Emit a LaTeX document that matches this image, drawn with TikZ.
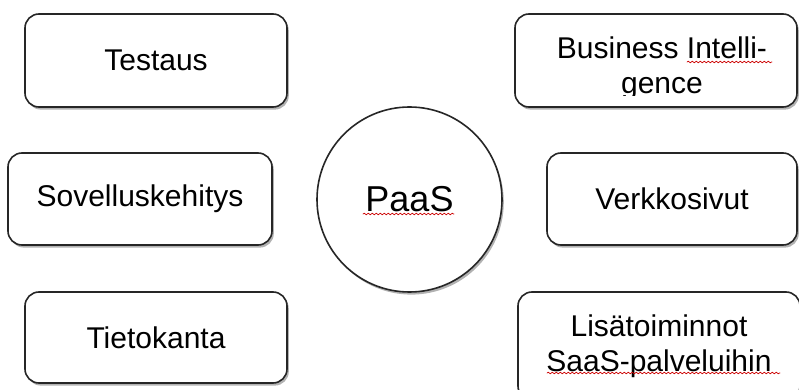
\documentclass[tikz,border=0pt]{standalone}
\usepackage{fontspec}
\setmainfont{Liberation Sans}
\usetikzlibrary{shadows,decorations.pathmorphing}

\tikzset{
  area/.style={draw=black!85, line width=0.8pt, fill=white, rounded corners=7pt,
    align=center, inner sep=0pt, font=\fontsize{15}{17.5}\selectfont,
    drop shadow={shadow xshift=0.9pt, shadow yshift=-1.3pt, opacity=0.3, fill=black}},
  core/.style={circle, draw=black!85, line width=0.8pt, fill=white, inner sep=0pt,
    minimum size=92.5pt, font=\fontsize{18}{20}\selectfont,
    drop shadow={shadow xshift=0.9pt, shadow yshift=-1.3pt, opacity=0.3, fill=black}},
  squiggle/.style={red!80!black, line width=0.35pt, decorate,
    decoration={snake, amplitude=0.4pt, segment length=2pt}}
}

\begin{document}
\begin{tikzpicture}[x=0.5pt, y=-0.5pt, line join=round, line cap=round]
  \clip (0,0) rectangle (799,390);
  % left column
  \node[area, minimum width=131pt, minimum height=46.5pt] (testaus) at (156,60.5) {Testaus};
  \node[area, minimum width=132pt, minimum height=46pt] (kehitys) at (140,199) {Sovelluskehitys};
  \node[area, minimum width=131pt, minimum height=45.5pt] (kanta) at (156,337.5) {Tietokanta};
  % centre
  \node[core] (paas) at (409.5,199.5) {PaaS};
  % right column
  \node[area, minimum width=141pt, minimum height=46.5pt] (bi) at (656,60.5) {};
  \begin{scope}
    \clip (515,14) rectangle (797,96);
    \node[align=center, font=\fontsize{15}{17.5}\selectfont] (bitext) at (662,68) {Business Intelli-\\gence};
  \end{scope}
  \node[area, minimum width=125pt, minimum height=46pt] (sivut) at (672,199) {Verkkosivut};
  \node[area, minimum width=141pt, minimum height=54pt] (lisa) at (659,346) {Lisätoiminnot\\SaaS-palveluihin};
  % spelling marks
  \draw[squiggle] (363,214) -- (454,214);
  \draw[squiggle] (687,62) -- (772,62);
  \draw[squiggle] (547,373) -- (780,373);
\end{tikzpicture}
\end{document}
